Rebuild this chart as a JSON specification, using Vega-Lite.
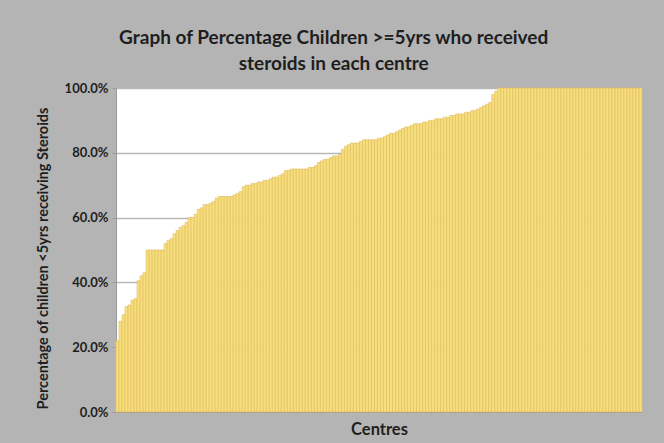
{
  "$schema": "https://vega.github.io/schema/vega-lite/v6.json",
  "autosize": "none",
  "width": 526,
  "height": 324,
  "padding": {"left": 116, "top": 88, "right": 22, "bottom": 31},
  "background": "#b4b4b4",
  "title": {
    "text": ["Graph of Percentage Children >=5yrs who received", "steroids in each centre"],
    "font": "Lato",
    "fontSize": 19,
    "fontWeight": "bold",
    "color": "#1e1e1e",
    "anchor": "middle",
    "frame": "bounds",
    "lineHeight": 26,
    "offset": 8,
    "dx": -5
  },
  "config": {
    "view": {"fill": "white", "stroke": null},
    "font": "Lato"
  },
  "data": {
    "values": [
      {"centre": 1, "pct": 0.22}, {"centre": 2, "pct": 0.28}, {"centre": 3, "pct": 0.30}, {"centre": 4, "pct": 0.325}, {"centre": 5, "pct": 0.33},
      {"centre": 6, "pct": 0.345}, {"centre": 7, "pct": 0.35}, {"centre": 8, "pct": 0.405}, {"centre": 9, "pct": 0.42}, {"centre": 10, "pct": 0.43},
      {"centre": 11, "pct": 0.50}, {"centre": 12, "pct": 0.50}, {"centre": 13, "pct": 0.50}, {"centre": 14, "pct": 0.50}, {"centre": 15, "pct": 0.50},
      {"centre": 16, "pct": 0.50}, {"centre": 17, "pct": 0.52}, {"centre": 18, "pct": 0.53}, {"centre": 19, "pct": 0.535}, {"centre": 20, "pct": 0.55},
      {"centre": 21, "pct": 0.56}, {"centre": 22, "pct": 0.57}, {"centre": 23, "pct": 0.575}, {"centre": 24, "pct": 0.585}, {"centre": 25, "pct": 0.60},
      {"centre": 26, "pct": 0.60}, {"centre": 27, "pct": 0.61}, {"centre": 28, "pct": 0.625}, {"centre": 29, "pct": 0.63}, {"centre": 30, "pct": 0.64},
      {"centre": 31, "pct": 0.64}, {"centre": 32, "pct": 0.645}, {"centre": 33, "pct": 0.65}, {"centre": 34, "pct": 0.66}, {"centre": 35, "pct": 0.665},
      {"centre": 36, "pct": 0.665}, {"centre": 37, "pct": 0.665}, {"centre": 38, "pct": 0.665}, {"centre": 39, "pct": 0.665}, {"centre": 40, "pct": 0.67},
      {"centre": 41, "pct": 0.675}, {"centre": 42, "pct": 0.68}, {"centre": 43, "pct": 0.695}, {"centre": 44, "pct": 0.70}, {"centre": 45, "pct": 0.70},
      {"centre": 46, "pct": 0.705}, {"centre": 47, "pct": 0.705}, {"centre": 48, "pct": 0.71}, {"centre": 49, "pct": 0.71}, {"centre": 50, "pct": 0.715},
      {"centre": 51, "pct": 0.715}, {"centre": 52, "pct": 0.72}, {"centre": 53, "pct": 0.725}, {"centre": 54, "pct": 0.725}, {"centre": 55, "pct": 0.73},
      {"centre": 56, "pct": 0.735}, {"centre": 57, "pct": 0.745}, {"centre": 58, "pct": 0.745}, {"centre": 59, "pct": 0.75}, {"centre": 60, "pct": 0.75},
      {"centre": 61, "pct": 0.75}, {"centre": 62, "pct": 0.75}, {"centre": 63, "pct": 0.75}, {"centre": 64, "pct": 0.75}, {"centre": 65, "pct": 0.755},
      {"centre": 66, "pct": 0.755}, {"centre": 67, "pct": 0.76}, {"centre": 68, "pct": 0.77}, {"centre": 69, "pct": 0.775}, {"centre": 70, "pct": 0.78},
      {"centre": 71, "pct": 0.78}, {"centre": 72, "pct": 0.785}, {"centre": 73, "pct": 0.79}, {"centre": 74, "pct": 0.79}, {"centre": 75, "pct": 0.795},
      {"centre": 76, "pct": 0.81}, {"centre": 77, "pct": 0.82}, {"centre": 78, "pct": 0.825}, {"centre": 79, "pct": 0.83}, {"centre": 80, "pct": 0.83},
      {"centre": 81, "pct": 0.83}, {"centre": 82, "pct": 0.835}, {"centre": 83, "pct": 0.84}, {"centre": 84, "pct": 0.84}, {"centre": 85, "pct": 0.84},
      {"centre": 86, "pct": 0.84}, {"centre": 87, "pct": 0.84}, {"centre": 88, "pct": 0.845}, {"centre": 89, "pct": 0.845}, {"centre": 90, "pct": 0.85},
      {"centre": 91, "pct": 0.855}, {"centre": 92, "pct": 0.86}, {"centre": 93, "pct": 0.86}, {"centre": 94, "pct": 0.865}, {"centre": 95, "pct": 0.87},
      {"centre": 96, "pct": 0.875}, {"centre": 97, "pct": 0.88}, {"centre": 98, "pct": 0.88}, {"centre": 99, "pct": 0.885}, {"centre": 100, "pct": 0.89},
      {"centre": 101, "pct": 0.89}, {"centre": 102, "pct": 0.89}, {"centre": 103, "pct": 0.895}, {"centre": 104, "pct": 0.895}, {"centre": 105, "pct": 0.90},
      {"centre": 106, "pct": 0.90}, {"centre": 107, "pct": 0.905}, {"centre": 108, "pct": 0.905}, {"centre": 109, "pct": 0.905}, {"centre": 110, "pct": 0.91},
      {"centre": 111, "pct": 0.91}, {"centre": 112, "pct": 0.915}, {"centre": 113, "pct": 0.915}, {"centre": 114, "pct": 0.92}, {"centre": 115, "pct": 0.92},
      {"centre": 116, "pct": 0.92}, {"centre": 117, "pct": 0.925}, {"centre": 118, "pct": 0.925}, {"centre": 119, "pct": 0.93}, {"centre": 120, "pct": 0.93},
      {"centre": 121, "pct": 0.935}, {"centre": 122, "pct": 0.94}, {"centre": 123, "pct": 0.945}, {"centre": 124, "pct": 0.95}, {"centre": 125, "pct": 0.955},
      {"centre": 126, "pct": 0.98}, {"centre": 127, "pct": 0.99}, {"centre": 128, "pct": 1.0}, {"centre": 129, "pct": 1.0}, {"centre": 130, "pct": 1.0},
      {"centre": 131, "pct": 1.0}, {"centre": 132, "pct": 1.0}, {"centre": 133, "pct": 1.0}, {"centre": 134, "pct": 1.0}, {"centre": 135, "pct": 1.0},
      {"centre": 136, "pct": 1.0}, {"centre": 137, "pct": 1.0}, {"centre": 138, "pct": 1.0}, {"centre": 139, "pct": 1.0}, {"centre": 140, "pct": 1.0},
      {"centre": 141, "pct": 1.0}, {"centre": 142, "pct": 1.0}, {"centre": 143, "pct": 1.0}, {"centre": 144, "pct": 1.0}, {"centre": 145, "pct": 1.0},
      {"centre": 146, "pct": 1.0}, {"centre": 147, "pct": 1.0}, {"centre": 148, "pct": 1.0}, {"centre": 149, "pct": 1.0}, {"centre": 150, "pct": 1.0},
      {"centre": 151, "pct": 1.0}, {"centre": 152, "pct": 1.0}, {"centre": 153, "pct": 1.0}, {"centre": 154, "pct": 1.0}, {"centre": 155, "pct": 1.0},
      {"centre": 156, "pct": 1.0}, {"centre": 157, "pct": 1.0}, {"centre": 158, "pct": 1.0}, {"centre": 159, "pct": 1.0}, {"centre": 160, "pct": 1.0},
      {"centre": 161, "pct": 1.0}, {"centre": 162, "pct": 1.0}, {"centre": 163, "pct": 1.0}, {"centre": 164, "pct": 1.0}, {"centre": 165, "pct": 1.0},
      {"centre": 166, "pct": 1.0}, {"centre": 167, "pct": 1.0}, {"centre": 168, "pct": 1.0}, {"centre": 169, "pct": 1.0}, {"centre": 170, "pct": 1.0},
      {"centre": 171, "pct": 1.0}, {"centre": 172, "pct": 1.0}, {"centre": 173, "pct": 1.0}, {"centre": 174, "pct": 1.0}, {"centre": 175, "pct": 1.0}
    ]
  },
  "mark": {
    "type": "bar",
    "fill": "#f5e07c",
    "stroke": "#e3b85e",
    "strokeWidth": 0.6
  },
  "encoding": {
    "x": {
      "field": "centre",
      "type": "ordinal",
      "sort": "ascending",
      "scale": {"paddingInner": 0, "paddingOuter": 0},
      "axis": {
        "title": "Centres",
        "titleFont": "Lato",
        "titleFontSize": 16.5,
        "titleFontWeight": "bold",
        "titleColor": "#1e1e1e",
        "titlePadding": 9,
        "labels": false,
        "ticks": false,
        "domainColor": "#9a9a9a",
        "domainWidth": 1
      }
    },
    "y": {
      "field": "pct",
      "type": "quantitative",
      "scale": {"domain": [0, 1], "nice": false},
      "axis": {
        "title": "Percentage of children <5yrs receiving Steroids",
        "titleFont": "Lato",
        "titleFontSize": 14.5,
        "titleFontWeight": "bold",
        "titleColor": "#1e1e1e",
        "titlePadding": 14,
        "titleY": 170,
        "format": ".1%",
        "values": [0, 0.2, 0.4, 0.6, 0.8, 1.0],
        "labelFont": "Lato",
        "labelFontSize": 13,
        "labelFontWeight": "bold",
        "labelColor": "#1e1e1e",
        "labelPadding": 4,
        "tickSize": 4,
        "tickColor": "#9a9a9a",
        "domainColor": "#9a9a9a",
        "gridColor": "#b8b8b8",
        "gridWidth": 1.5
      }
    }
  }
}
